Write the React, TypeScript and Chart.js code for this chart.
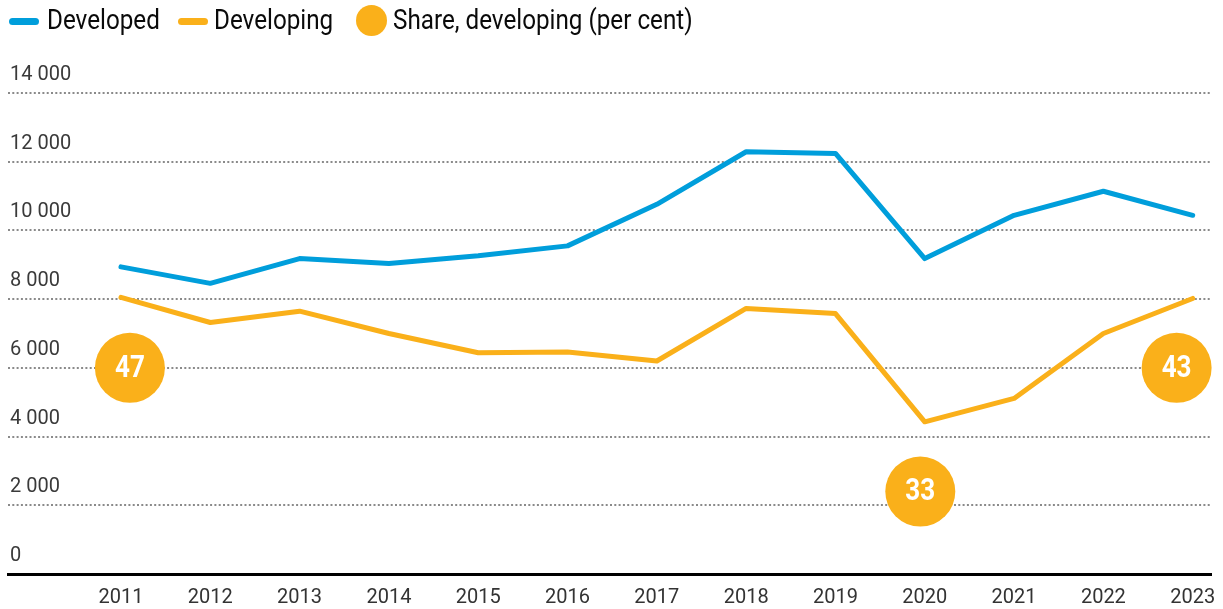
import React, { useEffect, useRef } from 'react';
import { Chart, registerables } from 'chart.js';

Chart.register(...registerables);

// ---- Data ----
const years = [2011, 2012, 2013, 2014, 2015, 2016, 2017, 2018, 2019, 2020, 2021, 2022, 2023];
const developed = [8940, 8460, 9180, 9040, 9260, 9550, 10760, 12290, 12240, 9180, 10440, 11140, 10440];
const developing = [8050, 7320, 7650, 7000, 6440, 6460, 6200, 7730, 7580, 4430, 5110, 7000, 8020];
const shareValues = [47, 33, 43];
const shareX = [2011.1, 2019.95, 2022.82];
const shareY = [6000, 2400, 6000];
const yTickValues = [0, 2000, 4000, 6000, 8000, 10000, 12000, 14000];

const BLUE = '#009EDB';
const ORANGE = '#FAB01A';
const FONT = "'Liberation Sans Narrow', 'Arial Narrow', Roboto, sans-serif";

const fmt = (v: number) => String(v).replace(/\B(?=(\d{3})+(?!\d))/g, ' ');

const shareLabelPlugin = {
  id: 'shareLabels',
  afterDatasetsDraw(chart: any) {
    const meta = chart.getDatasetMeta(2);
    const ctx = chart.ctx;
    meta.data.forEach((el: any, i: number) => {
      ctx.save();
      ctx.translate(el.x, el.y + 1);
      ctx.scale(0.84, 1);
      ctx.font = `bold 31px ${FONT}`;
      ctx.fillStyle = '#ffffff';
      ctx.textAlign = 'center';
      ctx.textBaseline = 'middle';
      ctx.fillText(String(shareValues[i]), 0, 0);
      ctx.restore();
    });
  },
};

export default function App() {
  const canvasRef = useRef<HTMLCanvasElement | null>(null);

  useEffect(() => {
    if (!canvasRef.current) return;
    const chart = new Chart(canvasRef.current, {
      type: 'line',
      data: {
        datasets: [
          {
            label: 'Developed',
            data: years.map((x, i) => ({ x, y: developed[i] })),
            borderColor: BLUE,
            backgroundColor: BLUE,
            borderWidth: 5,
            pointRadius: 0,
            tension: 0,
            borderCapStyle: 'round',
            borderJoinStyle: 'round',
          },
          {
            label: 'Developing',
            data: years.map((x, i) => ({ x, y: developing[i] })),
            borderColor: ORANGE,
            backgroundColor: ORANGE,
            borderWidth: 5,
            pointRadius: 0,
            tension: 0,
            borderCapStyle: 'round',
            borderJoinStyle: 'round',
          },
          {
            label: 'Share, developing (per cent)',
            data: shareX.map((x, i) => ({ x, y: shareY[i] })),
            showLine: false,
            pointRadius: 35,
            pointHoverRadius: 35,
            pointBackgroundColor: ORANGE,
            pointBorderWidth: 0,
            borderColor: ORANGE,
            backgroundColor: ORANGE,
            clip: false,
          },
        ],
      },
      options: {
        responsive: false,
        animation: false,
        devicePixelRatio: 1,
        layout: { autoPadding: false, padding: { left: 8, right: 12, top: 93, bottom: 0 } },
        plugins: {
          legend: { display: false },
          tooltip: { enabled: false },
        },
        scales: {
          x: {
            type: 'linear',
            min: 2009.735,
            max: 2023.205,
            grid: { display: false, drawTicks: true, tickLength: 12 },
            border: { display: true, color: '#000000', width: 3 },
            afterBuildTicks: (scale: any) => {
              scale.ticks = years.map((v) => ({ value: v }));
            },
            afterFit: (scale: any) => {
              scale.height = 35;
            },
            ticks: {
              autoSkip: false,
              maxRotation: 0,
              padding: 0,
              color: '#333333',
              font: { family: FONT, size: 20 },
              callback: (v: any) => String(v),
            },
          },
          y: {
            type: 'linear',
            min: 0,
            max: 14000,
            afterBuildTicks: (scale: any) => {
              scale.ticks = yTickValues.map((v) => ({ value: v }));
            },
            afterFit: (scale: any) => {
              scale.width = 0;
            },
            grid: {
              drawTicks: false,
              lineWidth: 2,
              color: (c: any) => (c.tick && c.tick.value === 0 ? 'rgba(0,0,0,0)' : '#8a8a8a'),
            },
            border: { display: false, dash: [2, 2.3] },
            ticks: {
              mirror: true,
              padding: 2,
              labelOffset: -18,
              color: '#3a3a3a',
              font: { family: FONT, size: 20 },
              callback: (v: any) => fmt(Number(v)),
            },
          },
        },
      } as any,
      plugins: [shareLabelPlugin],
    });
    return () => chart.destroy();
  }, []);

  const textStyle: React.CSSProperties = {
    position: 'absolute',
    top: 6,
    fontFamily: FONT,
    fontSize: 28,
    lineHeight: '28px',
    color: '#0a0a0a',
    whiteSpace: 'nowrap',
    display: 'inline-block',
    transform: 'scaleX(0.865)',
    transformOrigin: 'left center',
  };

  return (
    <div style={{ position: 'absolute', left: 0, top: 0, width: 1223, height: 609, overflow: 'hidden', background: '#ffffff' }}>
      <canvas ref={canvasRef} width={1223} height={609} style={{ position: 'absolute', left: 0, top: 0 }} />
      <div style={{ position: 'absolute', left: 9, top: 18, width: 30, height: 7, borderRadius: 4, background: BLUE }} />
      <span style={{ ...textStyle, left: 47 }}>Developed</span>
      <div style={{ position: 'absolute', left: 178, top: 18, width: 30, height: 7, borderRadius: 4, background: ORANGE }} />
      <span style={{ ...textStyle, left: 214 }}>Developing</span>
      <div style={{ position: 'absolute', left: 356, top: 5, width: 31, height: 31, borderRadius: '50%', background: ORANGE }} />
      <span style={{ ...textStyle, left: 393 }}>Share, developing (per cent)</span>
    </div>
  );
}
